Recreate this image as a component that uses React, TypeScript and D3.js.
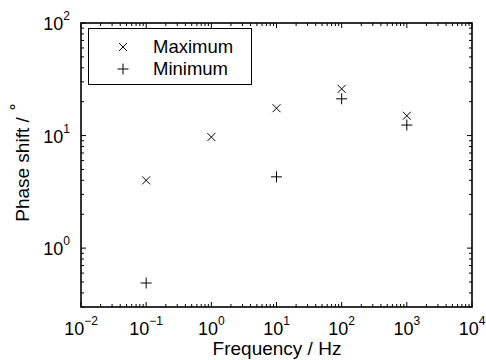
import React from "react";
import * as d3 from "d3";

const frequencies = [0.1, 1, 10, 100, 1000];
const maximumValues = [4.0, 9.7, 17.5, 26, 15];
const minFrequencies = [0.1, 10, 100, 1000];
const minimumValues = [0.49, 4.3, 21.2, 12.4];
const xTickExps = [-2, -1, 0, 1, 2, 3, 4];
const yTickExps = [0, 1, 2];

const W = 486, H = 360;
const L = 81, R = 472, T = 23, B = 307;
const FONT = "'Liberation Sans', Arial, Helvetica, sans-serif";

export default function App() {
  const x = d3.scaleLog().domain([1e-2, 1e4]).range([L, R]);
  const y = d3.scaleLog().domain([0.3, 100]).range([B, T]);

  const xMinor: number[] = [];
  for (let e = -2; e < 4; e++) for (let k = 2; k <= 9; k++) xMinor.push(k * Math.pow(10, e));
  const yMinor: number[] = [];
  for (let e = -1; e < 2; e++) for (let k = 2; k <= 9; k++) {
    const v = k * Math.pow(10, e);
    if (v >= 0.3 && v <= 100) yMinor.push(v);
  }
  const maj = 5, mnr = 3;
  const sup = (e: number) => (e < 0 ? "\u2212" + Math.abs(e) : String(e));

  return (
    <svg width={W} height={H} style={{ position: "absolute", left: 0, top: 0, background: "#fff" }} fontFamily={FONT}>
      <rect x={0} y={0} width={W} height={H} fill="#fff" />
      {/* ticks */}
      <g stroke="#000" strokeWidth={1}>
        {xTickExps.map((e) => {
          const px = x(Math.pow(10, e));
          return (
            <g key={"xt" + e}>
              <line x1={px} x2={px} y1={B} y2={B - maj} />
              <line x1={px} x2={px} y1={T} y2={T + maj} />
            </g>
          );
        })}
        {xMinor.map((v, i) => {
          const px = x(v);
          return (
            <g key={"xm" + i}>
              <line x1={px} x2={px} y1={B} y2={B - mnr} />
              <line x1={px} x2={px} y1={T} y2={T + mnr} />
            </g>
          );
        })}
        {yTickExps.map((e) => {
          const py = y(Math.pow(10, e));
          return (
            <g key={"yt" + e}>
              <line x1={L} x2={L + maj} y1={py} y2={py} />
              <line x1={R} x2={R - maj} y1={py} y2={py} />
            </g>
          );
        })}
        {yMinor.map((v, i) => {
          const py = y(v);
          return (
            <g key={"ym" + i}>
              <line x1={L} x2={L + mnr} y1={py} y2={py} />
              <line x1={R} x2={R - mnr} y1={py} y2={py} />
            </g>
          );
        })}
      </g>
      <rect x={L} y={T} width={R - L} height={B - T} fill="none" stroke="#000" strokeWidth={1.6} />
      {/* x tick labels */}
      {xTickExps.map((e) => (
        <text key={"xl" + e} x={x(Math.pow(10, e))} y={B + 28} textAnchor="middle" fontSize={18} fill="#000">
          10
          <tspan dy={-10} fontSize={12}>{sup(e)}</tspan>
        </text>
      ))}
      {/* y tick labels */}
      {yTickExps.map((e) => (
        <text key={"yl" + e} x={L - 11} y={y(Math.pow(10, e)) + 7} textAnchor="end" fontSize={18} fill="#000">
          10
          <tspan dy={-10} fontSize={12}>{sup(e)}</tspan>
        </text>
      ))}
      {/* axis labels */}
      <text x={277} y={355} textAnchor="middle" fontSize={19} fill="#000">
        Frequency / Hz
      </text>
      <text transform={`translate(29,${(T + B) / 2 - 3}) rotate(-90)`} textAnchor="middle" fontSize={19} fill="#000">
        Phase shift /
        <tspan dx={5} dy={-11} fontSize={16}>∘</tspan>
      </text>
      {/* data */}
      <g stroke="#000" strokeWidth={1} fill="none">
        {frequencies.map((f, i) => {
          const px = x(f), py = y(maximumValues[i]);
          const s = 4;
          return <path key={"mx" + i} d={`M${px - s},${py - s}L${px + s},${py + s}M${px - s},${py + s}L${px + s},${py - s}`} />;
        })}
        {minFrequencies.map((f, i) => {
          const px = x(f), py = y(minimumValues[i]);
          const s = 5.5;
          return <path key={"mn" + i} d={`M${px - s},${py}L${px + s},${py}M${px},${py - s}L${px},${py + s}`} />;
        })}
      </g>
      {/* legend */}
      <rect x={88.5} y={28.5} width={163} height={56} fill="#fff" stroke="#000" strokeWidth={1} />
      <g stroke="#000" strokeWidth={1} fill="none">
        <path d={`M${123 - 4},${47 - 4}L${123 + 4},${47 + 4}M${123 - 4},${47 + 4}L${123 + 4},${47 - 4}`} />
        <path d={`M${123 - 5.5},${69}L${123 + 5.5},${69}M${123},${69 - 5.5}L${123},${69 + 5.5}`} />
      </g>
      <text x={153} y={53} fontSize={18.5} fill="#000">Maximum</text>
      <text x={153} y={75} fontSize={18.5} fill="#000">Minimum</text>
    </svg>
  );
}
